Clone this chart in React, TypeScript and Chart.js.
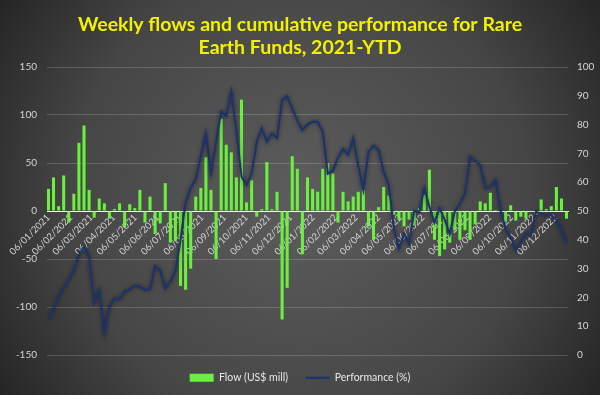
import React, { useEffect, useRef } from 'react';
import { Chart, registerables } from 'chart.js';

Chart.register(...registerables);

// Weekly dates start 06/01/2021 (one bar per week)
const startDate = '2021-01-06';

const titleLines = ['Weekly flows and cumulative performance for Rare', 'Earth Funds, 2021-YTD'];

const monthLabels = [
  '06/01/2021', '06/02/2021', '06/03/2021', '06/04/2021', '06/05/2021', '06/06/2021',
  '06/07/2021', '06/08/2021', '06/09/2021', '06/10/2021', '06/11/2021', '06/12/2021',
  '06/01/2022', '06/02/2022', '06/03/2022', '06/04/2022', '06/05/2022', '06/06/2022',
  '06/07/2022', '06/08/2022', '06/09/2022', '06/10/2022', '06/11/2022', '06/12/2022',
];

// Weekly flows (US$ mill)
const flows = [
  23, 35, 5, 37, -12, 18, 71, 89, 22, -7,
  13, 8, -8, 2, 8, -17, 7, 3, 22, -12,
  15, -24, -13, 29, -33, -31, -78, -82, -60, 15,
  24, 56, 22, -50, 96, 69, 61, 35, 116, 9,
  32, -6, 2, 51, 2, 20, -113, -80, 57, 44,
  -45, 35, 23, 20, 44, 50, 39, -12, 20, 10,
  15, 20, 22, -16, -30, 4, 25, 16, -4, -9,
  -16, -9, -15, 3, 17, 43, -30, -47, -40, -33,
  -20, -30, -20, -30, -14, 10, 8, 19, 1, -1,
  -11, 6, -10, -6, -8, -1, -4, 12, 2, 5,
  25, 13, -8,
];

// Cumulative performance (%)
const performance = [
  12.4, 15.9, 20.3, 23.1, 26, 29.5, 34.7, 37.6, 34.1, 18,
  22.6, 7.5, 16.8, 19.7, 19.3, 22, 22.8, 24, 23.7, 22.6,
  22.8, 30.9, 29.3, 23.1, 25.5, 29, 40, 53, 58, 61,
  69, 77, 63, 74, 84.6, 83, 91.5, 78, 62, 59,
  63, 74, 78.8, 74, 77, 75.3, 88.5, 89.9, 85.5, 81.3,
  78, 80, 81, 81, 77.5, 63, 64, 68.5, 71.6, 69.5,
  75.3, 65.7, 57.3, 70.6, 72.7, 71.3, 63.5, 59, 44, 37,
  42, 38.5, 50, 49.5, 58, 51.5, 46, 51, 47, 42,
  49.8, 52.5, 56, 68.9, 67.3, 66, 58, 58.2, 60.8, 50.3,
  43.4, 41.1, 36.2, 39.4, 42.2, 41.5, 49.8, 49, 48.6, 48.6,
  47, 43.4, 38.8,
];

const DAY = 86400000;
const start = Date.parse(startDate + 'T00:00:00Z');
const weekDays = flows.map((_, i) => i * 7);
const tickDays = monthLabels.map((s) => {
  const [d, m, y] = s.split('/').map(Number);
  return (Date.UTC(y, m - 1, d) - start) / DAY;
});

const bgPlugin = {
  id: 'bg',
  beforeDraw(chart: any) {
    const { ctx, width, height } = chart;
    ctx.save();
    const g = ctx.createRadialGradient(width / 2, height * 0.5, 10, width / 2, height * 0.5, width * 0.62);
    g.addColorStop(0, '#5c5c5c');
    g.addColorStop(0.6, '#464646');
    g.addColorStop(1, '#222222');
    ctx.fillStyle = g;
    ctx.fillRect(0, 0, width, height);
    ctx.restore();
  },
  afterDraw(chart: any) {
    const { ctx } = chart;
    ctx.save();
    ctx.fillStyle = '#f2f200';
    ctx.font = 'bold 19.5px Lato';
    ctx.textAlign = 'center';
    ctx.textBaseline = 'alphabetic';
    titleLines.forEach((t, i) => ctx.fillText(t, 300, 30.5 + i * 23));
    ctx.restore();
  },
  beforeDatasetDraw(chart: any, args: any) {
    if (args.index === 1) {
      chart.ctx.save();
      chart.ctx.shadowColor = 'rgba(0,0,0,0.55)';
      chart.ctx.shadowBlur = 4;
    }
  },
  afterDatasetDraw(chart: any, args: any) {
    if (args.index === 1) chart.ctx.restore();
  },
};

export default function App() {
  const ref = useRef<HTMLCanvasElement>(null);
  useEffect(() => {
    document.body.style.margin = '0';
    const tickColor = '#d4d4d4';
    const chart = new Chart(ref.current as HTMLCanvasElement, {
      type: 'bar',
      data: {
        datasets: [
          {
            type: 'bar',
            label: 'Flow (US$ mill)',
            data: flows.map((v, i) => ({ x: weekDays[i], y: v })),
            yAxisID: 'y',
            backgroundColor: '#6cf03f',
            borderWidth: 0,
            barPercentage: 0.6,
            categoryPercentage: 1,
            order: 1,
          } as any,
          {
            type: 'line',
            label: 'Performance (%)',
            data: performance.map((v, i) => ({ x: weekDays[i], y: v })),
            yAxisID: 'y1',
            borderColor: '#1a3270',
            backgroundColor: '#1a3270',
            borderWidth: 2,
            pointRadius: 0,
            tension: 0,
            order: 0,
          } as any,
        ],
      },
      options: {
        animation: false,
        responsive: true,
        maintainAspectRatio: false,
        layout: { padding: { left: 0, right: 0, top: 67, bottom: 2 } },
        scales: {
          x: {
            type: 'linear',
            position: { y: 0 } as any,
            min: -2,
            max: 716,
            offset: false,
            afterBuildTicks: (s: any) => {
              s.ticks = tickDays.map((v) => ({ value: v }));
            },
            ticks: {
              autoSkip: false,
              maxRotation: 45,
              minRotation: 45,
              padding: 1,
              color: tickColor,
              font: { family: 'Lato', size: 9.5 },
              callback: (_v: any, i: number) => monthLabels[i],
            },
            grid: { display: false, drawTicks: false },
            border: { display: true, color: '#f2f2f2', width: 1 },
          },
          y: {
            position: 'left',
            min: -150,
            max: 150,
            ticks: { stepSize: 50, color: tickColor, font: { family: 'Lato', size: 10 }, padding: 10 },
            grid: { color: 'rgba(255,255,255,0.17)', drawTicks: false },
            border: { display: false },
            afterFit: (s: any) => {
              s.width = 47;
            },
          },
          y1: {
            position: 'right',
            min: 0,
            max: 100,
            ticks: { stepSize: 10, color: tickColor, font: { family: 'Lato', size: 10 }, padding: 9 },
            grid: { display: false, drawTicks: false },
            border: { display: false },
            afterFit: (s: any) => {
              s.width = 32;
            },
          },
        },
        plugins: {
          tooltip: { enabled: false },
          title: { display: false },
          legend: {
            position: 'bottom',
            labels: {
              usePointStyle: true,
              pointStyleWidth: 24,
              boxHeight: 8,
              padding: 17.5,
              color: '#e6e6e6',
              font: { family: 'Lato', size: 10.5 },
              sort: (a: any, b: any) => a.datasetIndex - b.datasetIndex,
              generateLabels: (c: any) => {
                const items = (Chart.defaults.plugins.legend.labels as any).generateLabels(c);
                return items.map((it: any) => {
                  if (it.datasetIndex === 0) {
                    return { ...it, pointStyle: 'rect', fillStyle: '#6cf03f', strokeStyle: '#6cf03f', lineWidth: 0 };
                  }
                  return { ...it, pointStyle: 'line', strokeStyle: '#1a3270', lineWidth: 2 };
                });
              },
            },
          },
        },
      },
      plugins: [bgPlugin],
    });
    return () => chart.destroy();
  }, []);
  return (
    <div style={{ width: 600, height: 395, position: 'relative' }}>
      <canvas ref={ref} />
    </div>
  );
}
